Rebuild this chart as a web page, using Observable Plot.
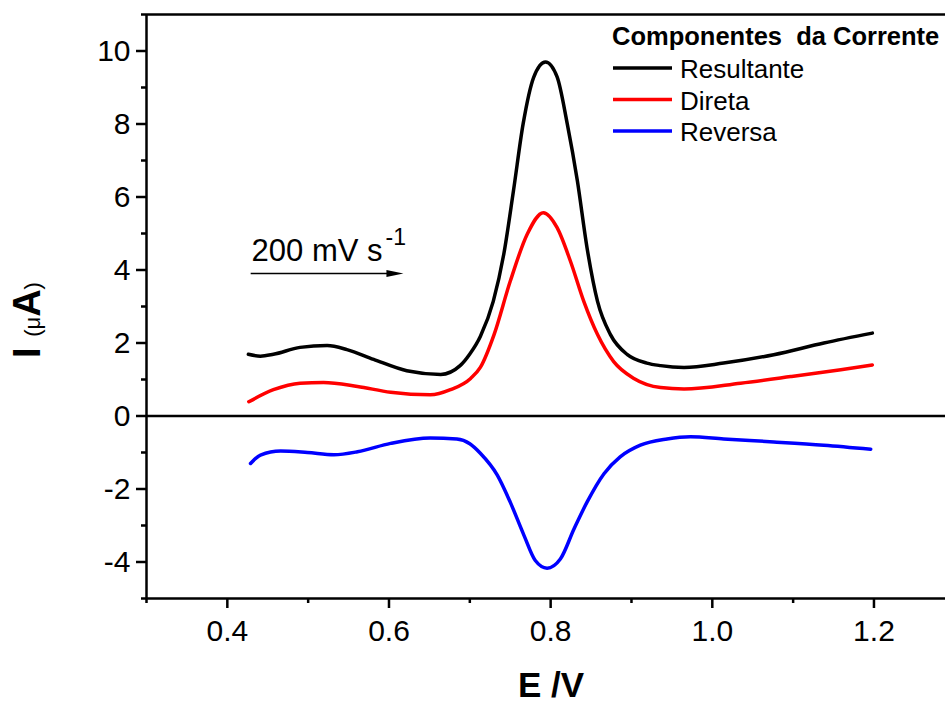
<!DOCTYPE html>
<html><head><meta charset="utf-8">
<script src="https://cdn.jsdelivr.net/npm/d3@7"></script>
<script src="https://cdn.jsdelivr.net/npm/@observablehq/plot@0.6"></script>
<style>body{margin:0;background:#fff;} svg{display:block}</style>
</head><body><div id="chart"></div>
<script>
// ---- data ----
const seriesNames = ["Resultante", "Direta", "Reversa"];
const seriesColors = ["#000000", "#ff0000", "#0000ff"];

const resultanteE = [0.426, 0.441, 0.457, 0.49, 0.5235, 0.548, 0.581, 0.622, 0.664, 0.688, 0.700, 0.713, 0.729, 0.742, 0.754, 0.766, 0.779, 0.7936, 0.808, 0.8205, 0.833, 0.845, 0.858, 0.874, 0.895, 0.919, 0.936, 0.965, 1.014, 1.076, 1.138, 1.198];
const resultanteI = [1.69, 1.64, 1.69, 1.88, 1.93, 1.82, 1.55, 1.24, 1.14, 1.38, 1.70, 2.18, 3.14, 4.43, 6.17, 8.01, 9.28, 9.70, 9.29, 8.01, 6.45, 4.61, 3.14, 2.23, 1.68, 1.45, 1.38, 1.33, 1.45, 1.68, 2.00, 2.27];

const diretaE = [0.4266, 0.457, 0.49, 0.519, 0.561, 0.602, 0.651, 0.676, 0.701, 0.713, 0.73, 0.75, 0.771, 0.791, 0.808, 0.8245, 0.841, 0.858, 0.878, 0.903, 0.936, 0.965, 1.035, 1.097, 1.159, 1.198];
const diretaI = [0.39, 0.72, 0.90, 0.92, 0.81, 0.65, 0.58, 0.72, 1.03, 1.33, 2.23, 3.69, 4.98, 5.57, 5.16, 4.24, 3.14, 2.23, 1.49, 1.03, 0.78, 0.74, 0.90, 1.08, 1.27, 1.40];

const reversaE = [0.4287, 0.441, 0.466, 0.499, 0.532, 0.561, 0.602, 0.651, 0.684, 0.700, 0.713, 0.734, 0.750, 0.767, 0.781, 0.7956, 0.812, 0.829, 0.845, 0.866, 0.886, 0.911, 0.944, 0.973, 1.014, 1.076, 1.138, 1.196];
const reversaI = [-1.30, -1.07, -0.96, -1.00, -1.06, -0.98, -0.75, -0.60, -0.63, -0.76, -1.02, -1.62, -2.36, -3.27, -3.96, -4.17, -3.92, -3.09, -2.36, -1.58, -1.12, -0.80, -0.63, -0.57, -0.63, -0.71, -0.80, -0.91];

const xTicksMajor = [0.4, 0.6, 0.8, 1.0, 1.2];
const xTicksMinor = [0.3, 0.5, 0.7, 0.9, 1.1];
const yTicksMajor = [-4, -2, 0, 2, 4, 6, 8, 10];
const yTicksMinor = [-5, -3, -1, 1, 3, 5, 7, 9, 11];
const xDomain = [0.3, 1.2885];
const yDomain = [-5, 11];

const xLabel = "E /V";
const legendTitle = "Componentes  da Corrente";
const scanRateText = "200 mV s";
const scanRateSup = "-1";
const scanArrow = {x1: 0.4295, x2: 0.6185, y: 3.89};
const scanTextPos = {x: 0.4306, y: 4.22};

// ---- build ----
const rows = [];
[[resultanteE, resultanteI], [diretaE, diretaI], [reversaE, reversaI]].forEach(([E, I], k) => {
  E.forEach((e, i) => rows.push({E: e, I: I[i], s: seriesNames[k]}));
});

const FONT = "'Liberation Sans', Arial, sans-serif";
const W = 945, H = 703;

const plot = Plot.plot({
  width: W, height: H,
  marginTop: 14, marginBottom: 105, marginLeft: 146, marginRight: 0,
  style: {fontFamily: FONT, background: "#fff", color: "#000"},
  x: {domain: xDomain, label: null},
  y: {domain: yDomain, label: null},
  color: {domain: seriesNames, range: seriesColors},
  marks: [
    Plot.axisX({ticks: xTicksMinor, tickSize: 5, tickFormat: () => "", strokeWidth: 2.5, label: null}),
    Plot.axisX({ticks: xTicksMajor, tickSize: 10, tickPadding: 11, tickFormat: d => d.toFixed(1), fontSize: 30, strokeWidth: 2.5, label: null}),
    Plot.axisY({ticks: yTicksMinor, tickSize: 5, tickFormat: () => "", strokeWidth: 2.5, label: null}),
    Plot.axisY({ticks: yTicksMajor, tickSize: 10, tickPadding: 6, tickFormat: d => String(d), fontSize: 30, strokeWidth: 2.5, label: null}),
    Plot.ruleY([0], {stroke: "#000", strokeWidth: 2.5}),
    Plot.ruleY([yDomain[0], yDomain[1]], {stroke: "#000", strokeWidth: 2.5}),
    Plot.ruleX([xDomain[0]], {stroke: "#000", strokeWidth: 2.5}),
    Plot.line(rows, {x: "E", y: "I", z: "s", stroke: "s", strokeWidth: 3.5, curve: "monotone-x"})
  ]
});

const svg = d3.select(plot);
const sx = plot.scale("x"), sy = plot.scale("y");

// x axis label
svg.append("text").attr("x", 551).attr("y", 697).attr("text-anchor", "middle")
  .attr("font-family", FONT).attr("font-weight", "bold").attr("font-size", 35).attr("fill", "#000").text(xLabel);

// y axis label  I (μA)
const yl = svg.append("text").attr("transform", "translate(40,320) rotate(-90)")
  .attr("text-anchor", "middle").attr("font-family", FONT).attr("fill", "#000")
  .style("white-space", "pre");
yl.append("tspan").attr("font-weight", "bold").attr("font-size", 38).text("I ");
yl.append("tspan").attr("font-size", 22).text("(\u03bc");
yl.append("tspan").attr("font-weight", "bold").attr("font-size", 38).text("A");
yl.append("tspan").attr("font-size", 22).text(")");

// scan rate annotation
const ax1 = sx.apply(scanArrow.x1), ax2 = sx.apply(scanArrow.x2), ay = sy.apply(scanArrow.y);
svg.append("line").attr("x1", ax1).attr("x2", ax2 - 14).attr("y1", ay).attr("y2", ay)
  .attr("stroke", "#000").attr("stroke-width", 1.3);
svg.append("path").attr("d", `M${ax2},${ay} L${ax2 - 17},${ay - 3.5} L${ax2 - 17},${ay + 3.5} Z`).attr("fill", "#000");
const st = svg.append("text").attr("x", sx.apply(scanTextPos.x)).attr("y", sy.apply(scanTextPos.y))
  .attr("text-anchor", "start").attr("font-family", FONT).attr("font-size", 31).attr("fill", "#000");
st.append("tspan").text(scanRateText);
st.append("tspan").attr("font-size", 23).attr("dx", 3).attr("dy", -16).text(scanRateSup);

// legend
const lg = svg.append("g").attr("font-family", FONT).attr("fill", "#000").attr("text-anchor", "start");
lg.append("text").attr("x", 612).attr("y", 45).attr("font-weight", "bold").attr("font-size", 25.5)
  .attr("text-anchor", "start").style("white-space", "pre").text(legendTitle);
seriesNames.forEach((name, i) => {
  const y = 68 + i * 31.5;
  lg.append("line").attr("x1", 613).attr("x2", 672).attr("y1", y).attr("y2", y)
    .attr("stroke", seriesColors[i]).attr("stroke-width", 3.5);
  lg.append("text").attr("x", 680).attr("y", y + 10).attr("text-anchor", "start").attr("font-size", 26).text(name);
});

document.getElementById("chart").appendChild(plot);
</script>
</body></html>
